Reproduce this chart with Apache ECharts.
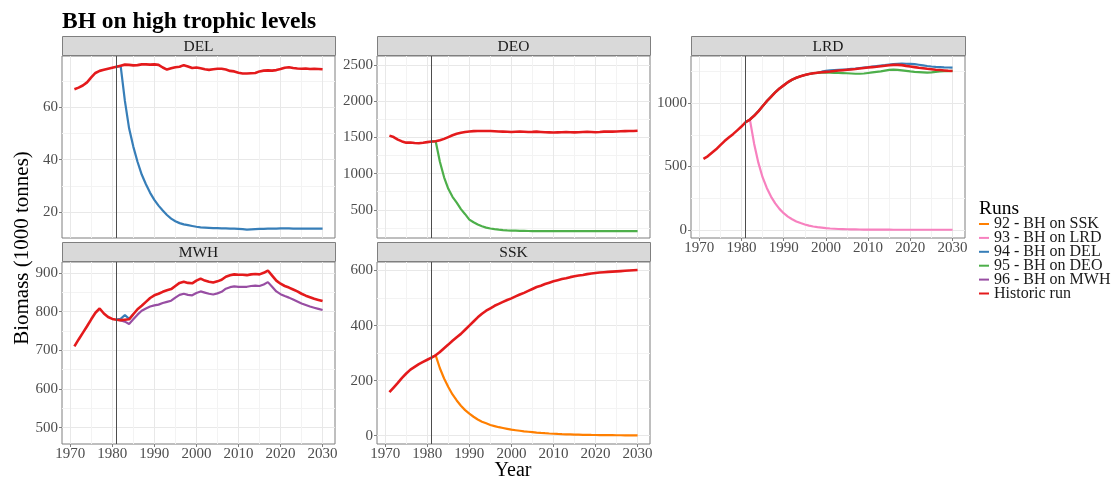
<!DOCTYPE html>
<html>
<head>
<meta charset="utf-8">
<script src="https://cdn.jsdelivr.net/npm/echarts@6/dist/echarts.min.js"></script>
<style>
  html, body { margin: 0; padding: 0; background: #fff; }
  #chart { width: 1113px; height: 480px; }
</style>
</head>
<body>
<div id="chart"></div>
<script>
// ---- data ----
const years = [1971, 1972, 1973, 1974, 1975, 1976, 1977, 1978, 1979, 1980,
  1981, 1982, 1983, 1984, 1985, 1986, 1987, 1988, 1989, 1990,
  1991, 1992, 1993, 1994, 1995, 1996, 1997, 1998, 1999, 2000,
  2001, 2002, 2003, 2004, 2005, 2006, 2007, 2008, 2009, 2010,
  2011, 2012, 2013, 2014, 2015, 2016, 2017, 2018, 2019, 2020,
  2021, 2022, 2023, 2024, 2025, 2026, 2027, 2028, 2029, 2030];
const interventionYear = 1981; // runs branch off the historic run here

const runNames = ["92 - BH on SSK", "93 - BH on LRD", "94 - BH on DEL", "95 - BH on DEO", "96 - BH on MWH", "Historic run"];

const xTicks = [1970, 1980, 1990, 2000, 2010, 2020, 2030];
const xMinor = [1975, 1985, 1995, 2005, 2015, 2025];

// DEL
const historicDEL = [67.0, 67.6, 68.4, 69.6, 71.5, 73.2, 74.0, 74.4, 74.8, 75.2,
  75.6, 76.0, 76.4, 76.3, 76.1, 76.2, 76.5, 76.5, 76.4, 76.5,
  76.3, 75.3, 74.5, 75.0, 75.4, 75.6, 76.2, 75.7, 75.1, 75.3,
  75.0, 74.6, 74.4, 74.6, 74.8, 74.8, 74.5, 74.0, 73.8, 73.3,
  73.0, 73.0, 73.1, 73.2, 73.8, 74.1, 74.2, 74.1, 74.3, 74.7,
  75.2, 75.4, 75.1, 74.9, 74.8, 74.9, 74.7, 74.8, 74.7, 74.6];
const run94DEL = [75.6, 75.8, 62.5, 52.0, 45.0, 39.2, 34.3, 30.6, 27.3, 24.6,
  22.4, 20.5, 18.8, 17.4, 16.4, 15.7, 15.2, 14.9, 14.6, 14.3,
  14.1, 14.0, 13.9, 13.8, 13.8, 13.7, 13.7, 13.6, 13.6, 13.5,
  13.4, 13.2, 13.3, 13.4, 13.5, 13.5, 13.6, 13.6, 13.6, 13.7,
  13.7, 13.7, 13.6, 13.6, 13.6, 13.6, 13.6, 13.6, 13.6, 13.6];
const yTicksDEL = [20, 40, 60];
const yMinorDEL = [30, 50, 70];

// DEO
const historicDEO = [1525, 1505, 1470, 1445, 1428, 1430, 1424, 1420, 1426, 1435,
  1444, 1448, 1460, 1480, 1505, 1530, 1550, 1565, 1576, 1583,
  1587, 1590, 1588, 1590, 1588, 1585, 1582, 1580, 1578, 1575,
  1578, 1580, 1578, 1575, 1577, 1580, 1576, 1572, 1570, 1568,
  1570, 1572, 1574, 1572, 1570, 1572, 1575, 1577, 1575, 1572,
  1575, 1580, 1582, 1580, 1582, 1585, 1587, 1588, 1590, 1592];
const run95DEO = [1444, 1448, 1165, 950, 790, 680, 600, 510, 440, 365,
  328, 297, 273, 255, 242, 233, 226, 221, 217, 214,
  212, 210, 209, 208, 207, 206, 206, 205, 205, 205,
  205, 205, 205, 206, 206, 206, 206, 206, 206, 206,
  206, 206, 206, 206, 205, 205, 205, 205, 205, 205];
const yTicksDEO = [500, 1000, 1500, 2000, 2500];
const yMinorDEO = [250, 750, 1250, 1750, 2250];

// LRD
const historicLRD = [560, 580, 608, 635, 668, 700, 728, 755, 785, 815,
  850, 870, 900, 935, 975, 1015, 1050, 1085, 1115, 1140,
  1165, 1185, 1200, 1212, 1222, 1230, 1236, 1240, 1244, 1247,
  1250, 1254, 1257, 1260, 1263, 1266, 1269, 1273, 1277, 1281,
  1284, 1287, 1291, 1295, 1299, 1302, 1302, 1300, 1294, 1289,
  1284, 1279, 1275, 1271, 1268, 1264, 1261, 1258, 1255, 1253];
const run93LRD = [850, 870, 680, 530, 415, 330, 262, 208, 165, 131,
  104, 83, 66, 53, 42, 33, 26, 21, 17, 13,
  10, 8, 6, 5, 4, 3, 2.5, 2, 1.6, 1.3,
  1.0, 0.8, 0.6, 0.5, 0.4, 0.3, 0.3, 0.2, 0.2, 0.2,
  0.1, 0.1, 0.1, 0.1, 0.1, 0.1, 0.1, 0.1, 0.1, 0.1];
const run94LRD = [850, 870, 900, 935, 975, 1015, 1050, 1085, 1115, 1140,
  1165, 1185, 1200, 1212, 1222, 1230, 1236, 1240, 1248, 1254,
  1258, 1261, 1263, 1265, 1267, 1270, 1273, 1277, 1281, 1284,
  1288, 1292, 1296, 1300, 1305, 1309, 1311, 1312, 1311, 1310,
  1308, 1303, 1298, 1293, 1289, 1286, 1284, 1282, 1281, 1280];
const run95LRD = [850, 870, 900, 935, 975, 1015, 1050, 1085, 1115, 1140,
  1165, 1185, 1200, 1212, 1222, 1230, 1236, 1238, 1240, 1240,
  1240, 1239, 1238, 1237, 1236, 1234, 1232, 1232, 1234, 1238,
  1242, 1246, 1250, 1256, 1262, 1264, 1262, 1258, 1254, 1250,
  1247, 1245, 1243, 1240, 1243, 1247, 1250, 1252, 1253, 1254];
const yTicksLRD = [0, 500, 1000];
const yMinorLRD = [250, 750, 1250];

// MWH
const historicMWH = [710, 728, 745, 762, 780, 797, 808, 795, 786, 781,
  779, 778, 779, 780, 793, 806, 815, 825, 835, 842,
  846, 851, 855, 858, 866, 874, 877, 874, 873, 880,
  885, 880, 877, 875, 878, 882, 890, 894, 896, 895,
  895, 894, 896, 897, 896, 900, 906, 893, 880, 872,
  866, 862, 857, 852, 846, 841, 837, 833, 830, 827];
const run96MWH = [779, 777, 774, 768, 780, 792, 802, 808, 813, 816,
  818, 822, 825, 828, 836, 843, 846, 843, 842, 848,
  852, 849, 846, 844, 847, 851, 859, 863, 865, 864,
  864, 864, 866, 867, 866, 870, 876, 864, 852, 845,
  840, 836, 831, 826, 821, 817, 813, 810, 807, 804];
const run94MWH = [779, 781, 791, 781, 793];
const yTicksMWH = [500, 600, 700, 800, 900];
const yMinorMWH = [550, 650, 750, 850];

// SSK
const historicSSK = [158, 175, 192, 210, 226, 240, 250, 260, 268, 276,
  284, 292, 304, 318, 331, 345, 358, 370, 385, 400,
  415, 430, 443, 454, 463, 472, 479, 486, 493, 499,
  506, 513, 519, 526, 533, 540, 545, 551, 556, 561,
  565, 569, 572, 576, 579, 582, 584, 587, 589, 591,
  593, 594, 595, 596, 597, 598, 599, 600, 601, 602];
const run92SSK = [284, 292, 245, 208, 177, 150, 128, 109, 93, 80,
  69, 59, 51, 45, 39, 35, 31, 28, 25, 22,
  20, 18, 16, 14.5, 13, 11.5, 10.3, 9.2, 8.2, 7.3,
  6.5, 5.8, 5.2, 4.7, 4.2, 3.8, 3.4, 3.1, 2.8, 2.6,
  2.4, 2.2, 2.0, 1.9, 1.8, 1.7, 1.6, 1.5, 1.4, 1.3];
const yTicksSSK = [0, 200, 400, 600];
const yMinorSSK = [100, 300, 500];

// ---- layout / style ----
const FONT = '"Liberation Serif", "Times New Roman", serif';
const runColors = {
  "92 - BH on SSK": "#FF7F00",
  "93 - BH on LRD": "#F781BF",
  "94 - BH on DEL": "#377EB8",
  "95 - BH on DEO": "#4DAF4A",
  "96 - BH on MWH": "#984EA3",
  "Historic run": "#E41A1C"
};
const xRange = [1968.05, 2032.95];

const panels = [
  { name: "DEL", left: 62, top: 56, width: 273, height: 182, yMin: 10.0, yMax: 79.7, showX: false,
    yTicks: yTicksDEL, yMinor: yMinorDEL,
    runs: [["94 - BH on DEL", interventionYear, run94DEL], ["Historic run", 1971, historicDEL]] },
  { name: "DEO", left: 377, top: 56, width: 273, height: 182, yMin: 111, yMax: 2625, showX: false,
    yTicks: yTicksDEO, yMinor: yMinorDEO,
    runs: [["95 - BH on DEO", interventionYear, run95DEO], ["Historic run", 1971, historicDEO]] },
  { name: "LRD", left: 691, top: 56, width: 274, height: 182, yMin: -65, yMax: 1372, showX: true,
    yTicks: yTicksLRD, yMinor: yMinorLRD,
    runs: [["93 - BH on LRD", interventionYear, run93LRD], ["94 - BH on DEL", interventionYear, run94LRD],
           ["95 - BH on DEO", interventionYear, run95LRD], ["Historic run", 1971, historicLRD]] },
  { name: "MWH", left: 62, top: 262, width: 273, height: 182, yMin: 458, yMax: 928, showX: true,
    yTicks: yTicksMWH, yMinor: yMinorMWH,
    runs: [["94 - BH on DEL", interventionYear, run94MWH], ["96 - BH on MWH", interventionYear, run96MWH],
           ["Historic run", 1971, historicMWH]] },
  { name: "SSK", left: 377, top: 262, width: 273, height: 182, yMin: -30, yMax: 631, showX: true,
    yTicks: yTicksSSK, yMinor: yMinorSSK,
    runs: [["92 - BH on SSK", interventionYear, run92SSK], ["Historic run", 1971, historicSSK]] }
];

function pairs(startYear, values) {
  const i0 = years.indexOf(startYear);
  return values.map((v, k) => [years[i0 + k], v]);
}

const plain = v => String(v);
const grids = [], xAxes = [], yAxes = [], series = [], graphics = [];

panels.forEach((p, i) => {
  grids.push({
    left: p.left, top: p.top, width: p.width, height: p.height,
    show: true, borderColor: "#7f7f7f", borderWidth: 1, backgroundColor: "#fff"
  });

  // minor grid axes (index 2i), major axes with labels (index 2i+1)
  xAxes.push({
    type: "value", gridIndex: i, position: "bottom", min: xRange[0], max: xRange[1],
    axisLine: { show: false, onZero: false },
    axisTick: { show: false, customValues: xMinor },
    axisLabel: { show: false, customValues: xMinor },
    splitLine: { show: true, lineStyle: { color: "#f3f3f3", width: 1 } }
  });
  xAxes.push({
    type: "value", gridIndex: i, position: "bottom", min: xRange[0], max: xRange[1],
    axisLine: { show: false, onZero: false },
    axisTick: { show: p.showX, length: 3, lineStyle: { color: "#7f7f7f" }, customValues: xTicks },
    axisLabel: { show: p.showX, customValues: xTicks, formatter: plain, color: "#4d4d4d", fontFamily: FONT, fontSize: 15, margin: 3 },
    splitLine: { show: true, lineStyle: { color: "#e8e8e8", width: 1 } }
  });
  yAxes.push({
    type: "value", gridIndex: i, position: "left", min: p.yMin, max: p.yMax,
    axisLine: { show: false, onZero: false },
    axisTick: { show: false, customValues: p.yMinor },
    axisLabel: { show: false, customValues: p.yMinor },
    splitLine: { show: true, lineStyle: { color: "#f3f3f3", width: 1 } }
  });
  yAxes.push({
    type: "value", gridIndex: i, position: "left", min: p.yMin, max: p.yMax,
    axisLine: { show: false, onZero: false },
    axisTick: { show: true, length: 3, lineStyle: { color: "#7f7f7f" }, customValues: p.yTicks },
    axisLabel: { show: true, customValues: p.yTicks, formatter: plain, color: "#4d4d4d", fontFamily: FONT, fontSize: 15, margin: 4 },
    splitLine: { show: true, lineStyle: { color: "#e8e8e8", width: 1 } }
  });

  p.runs.forEach(([name, start, values]) => {
    const isHist = name === "Historic run";
    const s = {
      name, type: "line", xAxisIndex: 2 * i + 1, yAxisIndex: 2 * i + 1,
      data: pairs(start, values),
      symbol: "none", smooth: false,
      lineStyle: { color: runColors[name], width: isHist ? 2.6 : 2.2 },
      itemStyle: { color: runColors[name] },
      emphasis: { disabled: true }
    };
    if (isHist) {
      s.markLine = {
        silent: true, symbol: ["none", "none"], label: { show: false },
        lineStyle: { color: "#4d4d4d", width: 1, type: "solid" },
        data: [{ xAxis: interventionYear }]
      };
    }
    series.push(s);
  });

  // facet strip
  graphics.push({
    type: "rect", silent: true,
    shape: { x: p.left + 0.5, y: p.top - 19.5, width: p.width, height: 19 },
    style: { fill: "#d9d9d9", stroke: "#7f7f7f", lineWidth: 1 }
  });
  graphics.push({
    type: "text", silent: true, x: p.left + p.width / 2, y: p.top - 9.5,
    style: { text: p.name, fontFamily: FONT, fontSize: 15.5, fill: "#1a1a1a", align: "center", verticalAlign: "middle" }
  });
});

graphics.push(
  { type: "text", silent: true, x: 62, y: 22,
    style: { text: "BH on high trophic levels", fontFamily: FONT, fontSize: 23.5, fontWeight: "bold", fill: "#000", align: "left", verticalAlign: "middle" } },
  { type: "text", silent: true, x: 513, y: 471,
    style: { text: "Year", fontFamily: FONT, fontSize: 20, fill: "#000", align: "center", verticalAlign: "middle" } },
  { type: "text", silent: true, x: 22, y: 248, rotation: Math.PI / 2,
    style: { text: "Biomass (1000 tonnes)", fontFamily: FONT, fontSize: 21, fill: "#000", align: "center", verticalAlign: "middle" } },
  { type: "text", silent: true, x: 979, y: 209,
    style: { text: "Runs", fontFamily: FONT, fontSize: 19.5, fill: "#000", align: "left", verticalAlign: "middle" } }
);

const chart = echarts.init(document.getElementById("chart"));
chart.setOption({
  animation: false,
  backgroundColor: "#fff",
  grid: grids,
  xAxis: xAxes,
  yAxis: yAxes,
  series: series,
  graphic: graphics,
  legend: {
    data: runNames,
    orient: "vertical",
    left: 979, top: 216, padding: 0,
    icon: "rect", itemWidth: 10, itemHeight: 2, itemGap: -2.1,
    selectedMode: false,
    textStyle: { fontFamily: FONT, fontSize: 16, color: "#1a1a1a", lineHeight: 13 }
  }
});
</script>
</body>
</html>
